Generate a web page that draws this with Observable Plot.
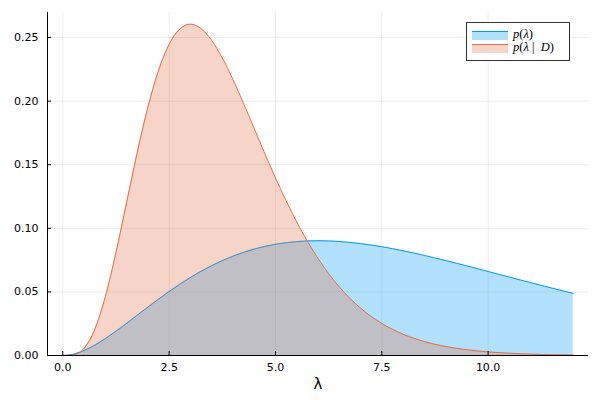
<!DOCTYPE html>
<html>
<head>
<meta charset="utf-8">
<script src="https://cdn.jsdelivr.net/npm/d3@7"></script>
<script src="https://cdn.jsdelivr.net/npm/@observablehq/plot@0.6"></script>
<style>
  body { margin: 0; background: #fff; }
  #wrap { position: relative; width: 600px; height: 400px; }
  #legend {
    position: absolute; left: 466px; top: 22px; width: 104px; height: 39px;
    box-sizing: border-box; border: 1px solid #333; background: #fff;
    font-family: "Liberation Serif", "DejaVu Serif", serif; font-size: 12.5px; color: #000;
  }
  .row { position: absolute; left: 5px; height: 10px; width: 95px; }
  .sw { position: absolute; left: 0; top: 0; width: 36px; height: 9px; }
  .lab { position: absolute; left: 41px; top: -4px; line-height: 14px; white-space: nowrap; }
  .lab i { font-style: italic; }
</style>
</head>
<body>
<div id="wrap"></div>
<script>
// λ grid
const lambda = [0, 0.25, 0.5, 0.75, 1, 1.25, 1.5, 1.75, 2, 2.25, 2.5, 2.75, 3, 3.25, 3.5, 3.75, 4, 4.25, 4.5, 4.75, 5, 5.25, 5.5, 5.75, 6, 6.25, 6.5, 6.75, 7, 7.25, 7.5, 7.75, 8, 8.25, 8.5, 8.75, 9, 9.25, 9.5, 9.75, 10, 10.25, 10.5, 10.75, 11, 11.25, 11.5, 11.75, 12];
// p(λ)
const prior = [0, 0.00107, 0.00392, 0.00811, 0.01327, 0.01908, 0.02527, 0.03165, 0.03803, 0.04429, 0.05030, 0.05600, 0.06131, 0.06621, 0.07064, 0.07461, 0.07810, 0.08112, 0.08367, 0.08578, 0.08744, 0.08870, 0.08956, 0.09007, 0.09023, 0.09008, 0.08963, 0.08893, 0.08799, 0.08685, 0.08550, 0.08400, 0.08235, 0.08058, 0.07869, 0.07672, 0.07469, 0.07259, 0.07043, 0.06825, 0.06606, 0.06386, 0.06166, 0.05945, 0.05727, 0.05513, 0.05300, 0.05090, 0.04885];
// p(λ | D)
const posterior = [0, 0.00049, 0.00563, 0.02044, 0.04628, 0.08097, 0.12030, 0.15969, 0.19519, 0.22405, 0.24465, 0.25667, 0.26055, 0.25709, 0.24778, 0.23396, 0.21702, 0.19815, 0.17849, 0.15874, 0.13966, 0.12163, 0.10498, 0.08986, 0.07634, 0.06440, 0.05398, 0.04498, 0.03728, 0.03074, 0.02522, 0.02061, 0.01676, 0.01359, 0.01097, 0.00883, 0.00708, 0.00566, 0.00451, 0.00359, 0.00284, 0.00225, 0.00178, 0.00140, 0.00110, 0.00086, 0.00067, 0.00053, 0.00041];

const xTicks = [0, 2.5, 5, 7.5, 10];
const yTicks = [0, 0.05, 0.10, 0.15, 0.20, 0.25];
const xDomain = [-0.36, 12.36];
const yDomain = [0, 0.2697];
const blue = "#009AFA";
const orange = "#E26F46";

const rows = lambda.map((l, i) => ({lambda: l, prior: prior[i], posterior: posterior[i]}));
const curve = "monotone-x";

const chart = Plot.plot({
  width: 600, height: 400,
  marginLeft: 47, marginRight: 12, marginTop: 12, marginBottom: 45,
  style: {fontFamily: "'DejaVu Sans', sans-serif", fontSize: "11px", color: "#000", background: "#fff"},
  x: {domain: xDomain},
  y: {domain: yDomain},
  marks: [
    Plot.gridX(xTicks, {stroke: "#000", strokeOpacity: 0.07}),
    Plot.gridY(yTicks, {stroke: "#000", strokeOpacity: 0.07}),
    Plot.areaY(rows, {x: "lambda", y: "prior", fill: blue, fillOpacity: 0.3, curve}),
    Plot.lineY(rows, {x: "lambda", y: "prior", stroke: blue, strokeWidth: 1, curve}),
    Plot.areaY(rows, {x: "lambda", y: "posterior", fill: orange, fillOpacity: 0.3, curve}),
    Plot.lineY(rows, {x: "lambda", y: "posterior", stroke: orange, strokeWidth: 1, curve}),
    Plot.ruleY([yDomain[0]], {stroke: "#000"}),
    Plot.ruleX([xDomain[0]], {stroke: "#000"}),
    Plot.axisX(xTicks, {tickFormat: d3.format(".1f"), tickSize: -4, tickPadding: 12, label: null}),
    Plot.axisY(yTicks, {tickFormat: d3.format(".2f"), tickSize: -4, tickPadding: 13, label: null}),
    Plot.text(["λ"], {text: d => d, frameAnchor: "bottom", dy: 33, fontSize: 15})
  ]
});
const wrap = document.getElementById("wrap");
wrap.appendChild(chart);

const legend = document.createElement("div");
legend.id = "legend";
legend.innerHTML = `
  <div class="row" style="top:7.5px">
    <div class="sw" style="background:rgba(0,154,250,0.3);border-top:1.5px solid ${blue};box-sizing:border-box"></div>
    <div class="lab"><i>p</i>(<i>λ</i>)</div>
  </div>
  <div class="row" style="top:20.5px">
    <div class="sw" style="background:rgba(226,111,70,0.3);border-top:1.5px solid ${orange};box-sizing:border-box"></div>
    <div class="lab"><i>p</i>(<i>λ</i> | &nbsp;<i>D</i>)</div>
  </div>`;
wrap.appendChild(legend);
</script>
</body>
</html>
